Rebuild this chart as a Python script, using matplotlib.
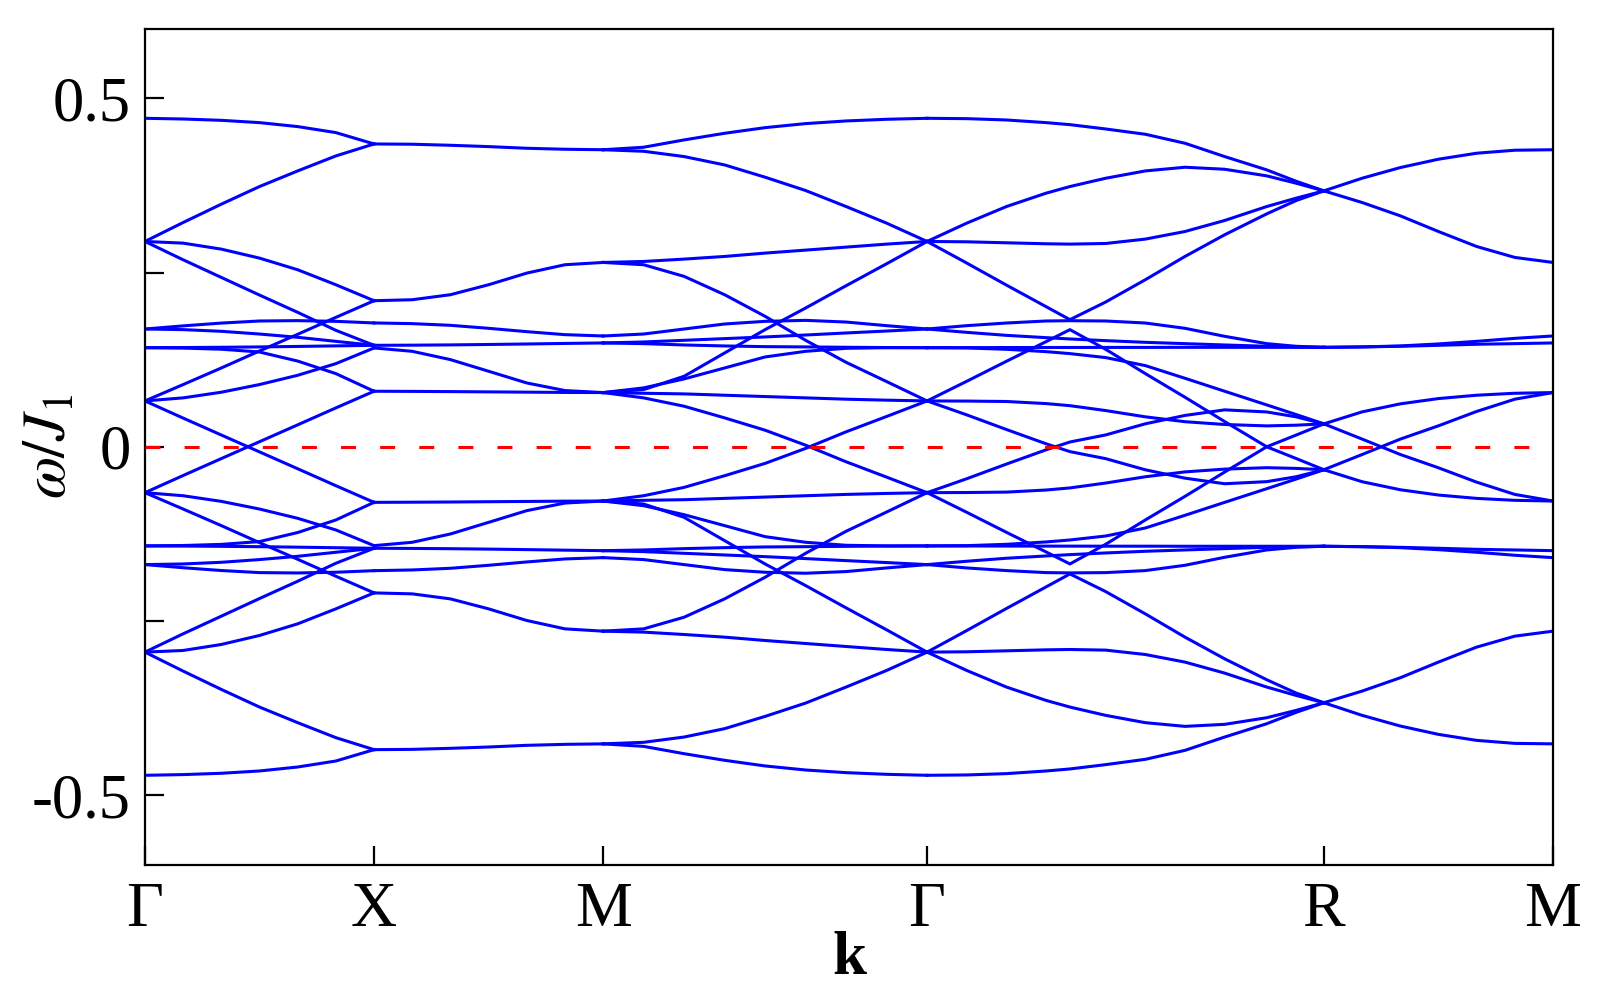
import numpy as np
import matplotlib
matplotlib.use("Agg")
import matplotlib.pyplot as plt

# path Γ-X-M-Γ-R-M, segment lengths in units of pi/a
tick_labels = ["Γ", "X", "M", "Γ", "R", "M"]
seg_lengths = [1.0, 1.0, 1.4142, 1.7321, 1.0]

# fractional positions along each segment where the bands were read
frac_GX = [0, 0.1667, 0.3333, 0.5, 0.6667, 0.8333, 1]
frac_XM = [0, 0.1667, 0.3333, 0.5, 0.6667, 0.8333, 1]
frac_MG = [0, 0.125, 0.25, 0.375, 0.5, 0.625, 0.75, 0.875, 1]
frac_GR = [0, 0.1, 0.2, 0.3, 0.36, 0.45, 0.55, 0.65, 0.75, 0.856, 0.93, 1]
frac_RM = [0, 0.1667, 0.3333, 0.5, 0.6667, 0.8333, 1]

# omega/J1 of the upper branch of each band pair (partners sit at -omega)
bands_GX = [
    [0.4713, 0.4703, 0.4684, 0.4651, 0.4594, 0.4508, 0.4345],
    [0.2946, 0.3218, 0.3481, 0.3734, 0.3958, 0.4173, 0.4345],
    [0.2946, 0.2922, 0.2836, 0.2707, 0.2540, 0.2325, 0.2096],
    [0.2946, 0.2683, 0.2430, 0.2177, 0.1929, 0.1671, 0.1456],
    [0.1690, 0.1735, 0.1775, 0.1805, 0.1810, 0.1800, 0.1777],
    [0.1690, 0.1681, 0.1657, 0.1618, 0.1571, 0.1513, 0.1456],
    [0.1422, 0.1424, 0.1428, 0.1433, 0.1440, 0.1448, 0.1456],
    [0.1422, 0.1416, 0.1400, 0.1360, 0.1230, 0.1050, 0.0797],
    [0.0658, 0.0893, 0.1131, 0.1375, 0.1614, 0.1857, 0.2096],
    [0.0658, 0.0702, 0.0783, 0.0893, 0.1026, 0.1193, 0.1418],
    [0.0658, 0.0412, 0.0169, -0.0073, -0.0315, -0.0558, -0.0797],
]
bands_XM = [
    [0.4345, 0.4341, 0.4326, 0.4307, 0.4283, 0.4269, 0.4262],
    [0.2096, 0.2110, 0.2182, 0.2325, 0.2492, 0.2612, 0.2645],
    [0.1777, 0.1767, 0.1743, 0.1700, 0.1652, 0.1609, 0.1590],
    [0.1456, 0.1458, 0.1462, 0.1468, 0.1475, 0.1483, 0.1490],
    [0.1418, 0.1370, 0.1251, 0.1084, 0.0916, 0.0807, 0.0778],
    [0.0797, 0.0795, 0.0792, 0.0788, 0.0784, 0.0780, 0.0778],
]
bands_MG = [
    [0.4262, 0.4298, 0.4403, 0.4498, 0.4579, 0.4637, 0.4675, 0.4699, 0.4713],
    [0.4262, 0.4240, 0.4164, 0.4044, 0.3868, 0.3677, 0.3447, 0.3209, 0.2946],
    [0.2645, 0.2659, 0.2693, 0.2731, 0.2779, 0.2822, 0.2865, 0.2908, 0.2946],
    [0.2645, 0.2612, 0.2445, 0.2182, 0.1872, 0.1528, 0.1212, 0.0936, 0.0658],
    [0.0778, 0.0821, 0.1012, 0.1346, 0.1681, 0.1991, 0.2311, 0.2626, 0.2946],
    [0.0778, 0.0845, 0.0974, 0.1131, 0.1289, 0.1370, 0.1413, 0.1422, 0.1422],
    [0.0778, 0.0768, 0.0759, 0.0740, 0.0721, 0.0702, 0.0683, 0.0669, 0.0658],
    [0.0778, 0.0702, 0.0582, 0.0415, 0.0238, 0.0023, -0.0215, -0.0435, -0.0658],
    [0.1590, 0.1618, 0.1690, 0.1762, 0.1800, 0.1814, 0.1790, 0.1738, 0.1690],
    [0.1490, 0.1504, 0.1528, 0.1552, 0.1576, 0.1604, 0.1633, 0.1661, 0.1690],
    [0.1490, 0.1480, 0.1461, 0.1447, 0.1437, 0.1433, 0.1428, 0.1424, 0.1422],
]
bands_GR = [
    [0.4713, 0.4708, 0.4689, 0.4651, 0.4622, 0.4560, 0.4484, 0.4355, 0.4164, 0.3973, 0.3810, 0.3672],
    [0.2946, 0.3209, 0.3447, 0.3639, 0.3734, 0.3853, 0.3958, 0.4011, 0.3982, 0.3887, 0.3782, 0.3672],
    [0.2946, 0.2941, 0.2927, 0.2913, 0.2908, 0.2917, 0.2980, 0.3089, 0.3247, 0.3447, 0.3567, 0.3672],
    [0.2946, 0.2636, 0.2320, 0.2010, 0.1824, 0.2077, 0.2397, 0.2731, 0.3042, 0.3342, 0.3533, 0.3672],
    [0.1690, 0.1738, 0.1776, 0.1805, 0.1809, 0.1805, 0.1776, 0.1700, 0.1585, 0.1480, 0.1442, 0.1427],
    [0.0658, 0.0940, 0.1227, 0.1509, 0.1681, 0.1399, 0.1050, 0.0711, 0.0362, 0.0000, -0.0168, -0.0329],
    [0.1422, 0.1423, 0.1424, 0.1425, 0.1425, 0.1426, 0.1426, 0.1427, 0.1427, 0.1427, 0.1427, 0.1427],
    [0.1690, 0.1642, 0.1599, 0.1566, 0.1547, 0.1523, 0.1499, 0.1480, 0.1461, 0.1442, 0.1433, 0.1427],
    [0.1422, 0.1418, 0.1399, 0.1365, 0.1337, 0.1280, 0.1165, 0.0983, 0.0797, 0.0601, 0.0463, 0.0329],
    [0.0658, 0.0458, 0.0248, 0.0043, -0.0069, -0.0170, -0.0330, -0.0450, -0.0530, -0.0500, -0.0430, -0.0329],
    [0.0658, 0.0656, 0.0650, 0.0620, 0.0590, 0.0520, 0.0430, 0.0360, 0.0320, 0.0300, 0.0310, 0.0329],
]
bands_RM = [
    [0.3672, 0.3853, 0.4006, 0.4126, 0.4212, 0.4255, 0.4262],
    [0.3672, 0.3505, 0.3314, 0.3089, 0.2874, 0.2717, 0.2645],
    [0.1427, 0.1433, 0.1447, 0.1476, 0.1513, 0.1556, 0.1590],
    [0.1427, 0.1433, 0.1442, 0.1456, 0.1471, 0.1480, 0.1490],
    [0.0329, 0.0501, 0.0616, 0.0692, 0.0740, 0.0768, 0.0778],
    [0.0329, 0.0111, -0.0110, -0.0301, -0.0507, -0.0683, -0.0778],
]

plt.rcParams["font.family"] = ["Liberation Serif", "DejaVu Serif"]
plt.rcParams["mathtext.fontset"] = "stix"
plt.rcParams["axes.unicode_minus"] = False

fig = plt.figure(figsize=(16, 10), dpi=100)
ax = fig.add_axes([0.0906, 0.135, 0.88, 0.8364])

segments = [(frac_GX, bands_GX), (frac_XM, bands_XM), (frac_MG, bands_MG),
            (frac_GR, bands_GR), (frac_RM, bands_RM)]
start = 0.0
for (frac, bands), length in zip(segments, seg_lengths):
    k = start + length * np.array(frac)
    for w in bands:
        w = np.array(w)
        for sign in (1, -1):
            ax.plot(k, sign * w, color="#0000ff", lw=2.2, solid_joinstyle="round")
    start += length

ticks = np.concatenate([[0.0], np.cumsum(seg_lengths)])

ax.axhline(0, color="#ff0000", lw=2.2, linestyle=(0, (4.9, 7.9)), zorder=3)

ax.set_xlim(ticks[0], ticks[-1])
ax.set_ylim(-0.6, 0.6)

ax.set_xticks(ticks)
ax.set_xticklabels(tick_labels, fontsize=46)
ax.set_yticks([-0.5, 0, 0.5])
ax.set_yticklabels(["-0.5", "0", "0.5"], fontsize=45)
ax.set_yticks([-0.25, 0.25], minor=True)

ax.tick_params(axis="both", which="both", direction="in", length=14, width=1.6,
               top=False, right=False)
ax.tick_params(axis="y", which="major", pad=10)
ax.tick_params(axis="x", which="major", pad=12)

for sp in ax.spines.values():
    sp.set_linewidth(1.6)

ax.set_xlabel("k", fontsize=44, fontweight="bold", labelpad=-6)
ax.set_ylabel(r"$\omega/J_1$", fontsize=44)
ax.yaxis.set_label_coords(-0.047, 0.5)

fig.savefig("out.png", dpi=100)
